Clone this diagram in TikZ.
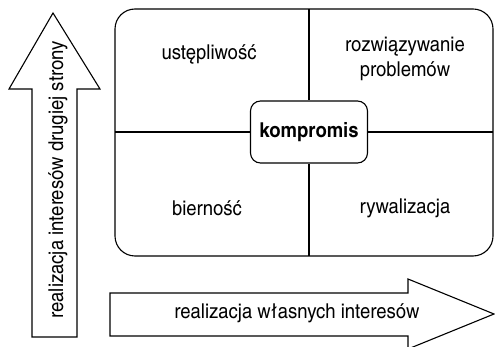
\documentclass[tikz,border=0pt]{standalone}
\usepackage{fontspec}
\setmainfont{TeX Gyre Heros Cn}[FakeStretch=1.1]
\begin{document}
\begin{tikzpicture}[x=1pt,y=-1pt,line join=miter,
  outline/.style={draw=black,line width=1.1pt},
  label/.style={font=\fontsize{20.5}{25}\selectfont,align=center,inner sep=0pt}]
\useasboundingbox (0,0) rectangle (495,347);
% upward arrow (other party's interests)
\draw[outline] (32,337) -- (32,89) -- (9,89) -- (53,13) -- (100,89) -- (77,89) -- (77,337) -- cycle;
\node[label,rotate=90] (vtext) at (58,180) {realizacja interesów drugiej strony};
% rightward arrow (own interests)
\draw[outline] (110,293) -- (408,293) -- (408,279) -- (494,314) -- (408,349) -- (408,336) -- (110,336) -- cycle;
\node[label] (htext) at (297,313) {realizacja własnych interesów};
% main frame
\draw[outline,rounded corners=20pt] (115,9) rectangle (493,256);
\node[outline,rounded corners=10pt,minimum width=117pt,minimum height=62pt,inner sep=0pt,font=\fontsize{20.5}{20}\selectfont\bfseries] (komp) at (309,132) {kompromis};
\coordinate (top) at (309,9);
\coordinate (bot) at (309,256);
\coordinate (lft) at (115,132);
\coordinate (rgt) at (493,132);
\draw[outline] (top) -- (komp.north);
\draw[outline] (komp.south) -- (bot);
\draw[outline] (lft) -- (komp.west);
\draw[outline] (komp.east) -- (rgt);
\node[label] (ust) at (209,54) {ustępliwość};
\node[label] (roz) at (405,58.5) {rozwiązywanie\\problemów};
\node[label] (bier) at (207,208) {bierność};
\node[label] (ryw) at (405,208) {rywalizacja};
\end{tikzpicture}
\end{document}
